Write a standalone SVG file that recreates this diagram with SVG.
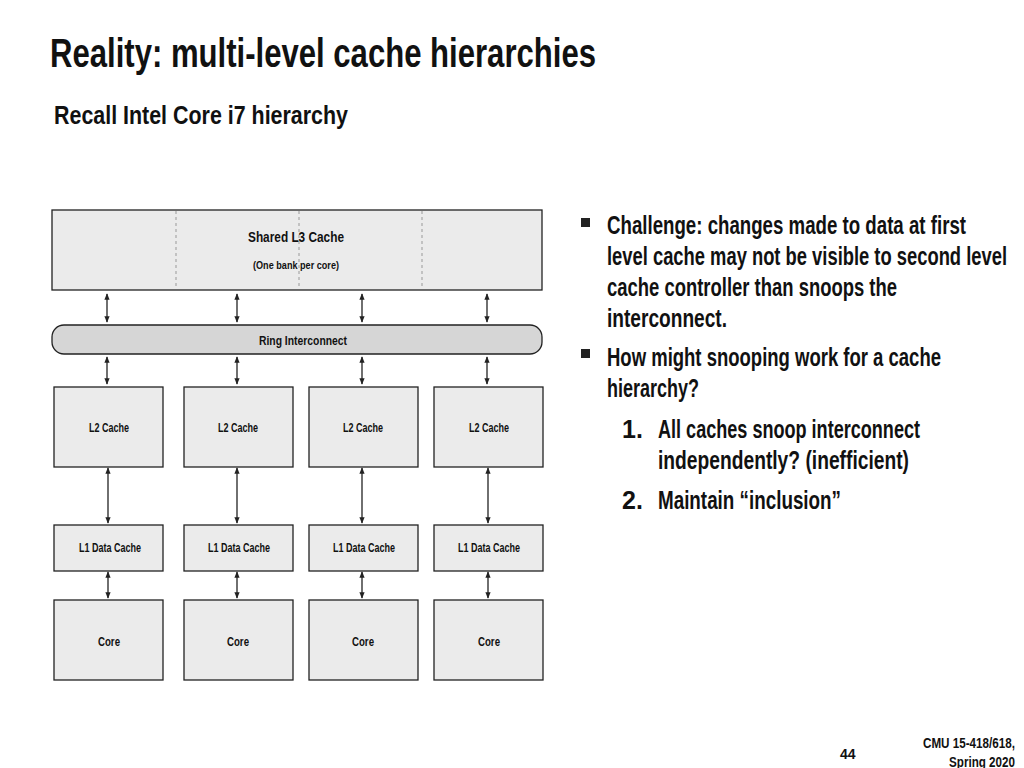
<svg xmlns="http://www.w3.org/2000/svg" width="1024" height="768" viewBox="0 0 1024 768">
<defs>
<marker id="a" viewBox="0 0 10 10" refX="9" refY="5" markerWidth="5" markerHeight="5" orient="auto-start-reverse"><path d="M0,1 L10,5 L0,9 z" fill="#222"/></marker>
<style>
text{font-family:"Liberation Sans",Arial,sans-serif;font-weight:bold;fill:#111}
.b{fill:#ebebeb;stroke:#222;stroke-width:1.3}
.l{font-size:12px;text-anchor:middle}
.c line{stroke:#222;stroke-width:1.3;marker-start:url(#a);marker-end:url(#a)}
.d{stroke:#999;stroke-width:1;stroke-dasharray:3,3}
.t{font-size:25px}
</style>
</defs>
<rect width="1024" height="768" fill="#fff"/>
<text x="50" y="67" font-size="40" textLength="546" lengthAdjust="spacingAndGlyphs">Reality: multi-level cache hierarchies</text>
<text x="54" y="124" font-size="26" textLength="294" lengthAdjust="spacingAndGlyphs">Recall Intel Core i7 hierarchy</text>
<g id="l3"><rect class="b" x="52" y="210" width="490" height="80" fill="#efefef"/>
<line class="d" x1="176" y1="211" x2="176" y2="289"/><line class="d" x1="299" y1="211" x2="299" y2="289"/><line class="d" x1="422" y1="211" x2="422" y2="289"/>
<text x="296" y="242" font-size="15" text-anchor="middle" textLength="96" lengthAdjust="spacingAndGlyphs">Shared L3 Cache</text>
<text x="296" y="269" font-size="11" text-anchor="middle" textLength="86" lengthAdjust="spacingAndGlyphs">(One bank per core)</text></g>
<g id="ring"><rect x="52" y="325" width="490" height="29" rx="12" fill="#d6d6d6" stroke="#222" stroke-width="1.3"/>
<text x="303" y="345" font-size="13" text-anchor="middle" textLength="88" lengthAdjust="spacingAndGlyphs">Ring Interconnect</text></g>
<g id="l2">
<rect class="b" x="54" y="387" width="109" height="80"/><rect class="b" x="184" y="387" width="109" height="80"/><rect class="b" x="309" y="387" width="109" height="80"/><rect class="b" x="434" y="387" width="109" height="80"/>
<text class="l" x="109" y="432" textLength="40" lengthAdjust="spacingAndGlyphs">L2 Cache</text><text class="l" x="238" y="432" textLength="40" lengthAdjust="spacingAndGlyphs">L2 Cache</text><text class="l" x="363" y="432" textLength="40" lengthAdjust="spacingAndGlyphs">L2 Cache</text><text class="l" x="489" y="432" textLength="40" lengthAdjust="spacingAndGlyphs">L2 Cache</text></g>
<g id="l1">
<rect class="b" x="54" y="525" width="109" height="46"/><rect class="b" x="184" y="525" width="109" height="46"/><rect class="b" x="309" y="525" width="109" height="46"/><rect class="b" x="434" y="525" width="109" height="46"/>
<text class="l" x="110" y="552" textLength="62" lengthAdjust="spacingAndGlyphs">L1 Data Cache</text><text class="l" x="239" y="552" textLength="62" lengthAdjust="spacingAndGlyphs">L1 Data Cache</text><text class="l" x="364" y="552" textLength="62" lengthAdjust="spacingAndGlyphs">L1 Data Cache</text><text class="l" x="489" y="552" textLength="62" lengthAdjust="spacingAndGlyphs">L1 Data Cache</text></g>
<g id="core">
<rect class="b" x="54" y="600" width="109" height="80"/><rect class="b" x="184" y="600" width="109" height="80"/><rect class="b" x="309" y="600" width="109" height="80"/><rect class="b" x="434" y="600" width="109" height="80"/>
<text class="l" x="109" y="646" textLength="22" lengthAdjust="spacingAndGlyphs">Core</text><text class="l" x="238" y="646" textLength="22" lengthAdjust="spacingAndGlyphs">Core</text><text class="l" x="363" y="646" textLength="22" lengthAdjust="spacingAndGlyphs">Core</text><text class="l" x="489" y="646" textLength="22" lengthAdjust="spacingAndGlyphs">Core</text></g>
<g class="c" id="connectors">
<line x1="107" y1="294" x2="107" y2="322"/><line x1="237" y1="294" x2="237" y2="322"/><line x1="362" y1="294" x2="362" y2="322"/><line x1="487" y1="294" x2="487" y2="322"/>
<line x1="107" y1="357" x2="107" y2="384"/><line x1="237" y1="357" x2="237" y2="384"/><line x1="362" y1="357" x2="362" y2="384"/><line x1="487" y1="357" x2="487" y2="384"/>
<line x1="108" y1="468" x2="108" y2="523"/><line x1="237" y1="468" x2="237" y2="523"/><line x1="362" y1="468" x2="362" y2="523"/><line x1="488" y1="468" x2="488" y2="523"/>
<line x1="108" y1="572" x2="108" y2="598"/><line x1="237" y1="572" x2="237" y2="598"/><line x1="362" y1="572" x2="362" y2="598"/><line x1="488" y1="572" x2="488" y2="598"/>
</g>
<rect x="581" y="218" width="9" height="9" fill="#222"/>
<rect x="581" y="349" width="9" height="9" fill="#222"/>
<text class="t" x="607" y="234" textLength="359" lengthAdjust="spacingAndGlyphs">Challenge: changes made to data at first</text>
<text class="t" x="607" y="265" textLength="400" lengthAdjust="spacingAndGlyphs">level cache may not be visible to second level</text>
<text class="t" x="607" y="296" textLength="290" lengthAdjust="spacingAndGlyphs">cache controller than snoops the</text>
<text class="t" x="607" y="327" textLength="120" lengthAdjust="spacingAndGlyphs">interconnect.</text>
<text class="t" x="607" y="366" textLength="334" lengthAdjust="spacingAndGlyphs">How might snooping work for a cache</text>
<text class="t" x="607" y="397" textLength="92" lengthAdjust="spacingAndGlyphs">hierarchy?</text>
<text class="t" x="622" y="438">1.</text>
<text class="t" x="658" y="438" textLength="262" lengthAdjust="spacingAndGlyphs">All caches snoop interconnect</text>
<text class="t" x="658" y="469" textLength="251" lengthAdjust="spacingAndGlyphs">independently? (inefficient)</text>
<text class="t" x="622" y="509">2.</text>
<text class="t" x="658" y="509" textLength="183" lengthAdjust="spacingAndGlyphs">Maintain “inclusion”</text>
<text x="840" y="759" font-size="14">44</text>
<text x="1015" y="748" font-size="14" text-anchor="end" textLength="92" lengthAdjust="spacingAndGlyphs">CMU 15-418/618,</text>
<text x="1015" y="767" font-size="14" text-anchor="end" textLength="66" lengthAdjust="spacingAndGlyphs">Spring 2020</text>
</svg>
